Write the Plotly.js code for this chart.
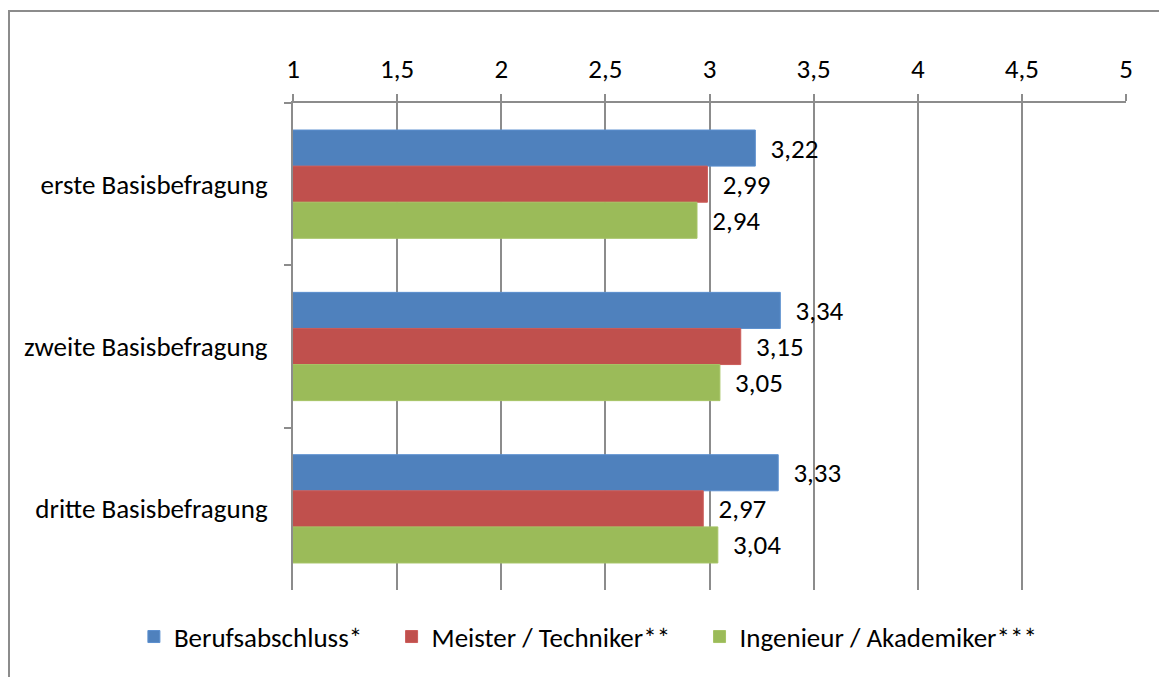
<!DOCTYPE html>
<html><head><meta charset="utf-8">
<script src="https://cdn.plot.ly/plotly-3.0.1.min.js"></script>
<style>
body{margin:0;padding:0;background:#fff;}
#wrap{position:relative;width:1159px;height:677px;overflow:hidden;}
#chart{position:absolute;left:0;top:0;width:1159px;height:677px;}
#frame{position:absolute;left:8px;top:10px;width:1300px;height:800px;border:2px solid #8c8c8c;pointer-events:none;box-sizing:border-box;}
</style></head>
<body>
<div id="wrap"><div id="chart"></div><div id="frame"></div></div>
<script>
const categories = ["erste Basisbefragung", "zweite Basisbefragung", "dritte Basisbefragung"];
const seriesNames = ["Berufsabschluss*", "Meister / Techniker**", "Ingenieur / Akademiker***"];
const berufsabschluss = [3.22, 3.34, 3.33];
const meister = [2.99, 3.15, 2.97];
const ingenieur = [2.94, 3.05, 3.04];
const tickValues = [1, 1.5, 2, 2.5, 3, 3.5, 4, 4.5, 5];
const colors = ["#4F81BD", "#C0504D", "#9BBB59"];
const lineColors = ["#5B8FCF", "#CC5C59", "#A6C466"];

const FONT = "Carlito, Lato, sans-serif";
const FS = 27;
const PAD = "\u00a0\u00a0\u00a0\u00a0";
const seriesData = [berufsabschluss, meister, ingenieur];
const traces = seriesData.map((vals, i) => ({
  type: "bar",
  orientation: "h",
  name: seriesNames[i] + (i < seriesNames.length - 1 ? PAD : ""),
  y: categories,
  x: vals,
  marker: {color: colors[i], line: {color: lineColors[i], width: 1}},
  text: vals.map(v => "\u00a0\u00a0" + v.toFixed(2).replace(".", ",")),
  textposition: "outside",
  cliponaxis: false,
  constraintext: "none",
  textfont: {family: FONT, size: FS, color: "#000"},
  hoverinfo: "x+y"
}));

const layout = {
  width: 1159, height: 677,
  margin: {l: 293, r: 33, t: 103, b: 87},
  paper_bgcolor: "#fff", plot_bgcolor: "#fff",
  separators: ",.",
  barmode: "group",
  bargap: 0.333,
  bargroupgap: 0,
  font: {family: FONT, size: FS, color: "#000"},
  xaxis: {
    side: "top",
    range: [1, 5],
    tickvals: tickValues,
    ticktext: tickValues.map(v => String(v).replace(".", ",")),
    ticks: "outside", ticklen: 7, tickwidth: 2, tickcolor: "#8c8c8c",
    showgrid: true, gridcolor: "#8c8c8c", gridwidth: 2,
    showline: true, linecolor: "#8c8c8c", linewidth: 2,
    zeroline: false,
    tickfont: {family: FONT, size: FS, color: "#000"},
    ticklabelstandoff: 5,
    fixedrange: true
  },
  yaxis: {
    type: "category",
    autorange: "reversed",
    ticks: "outside", tickson: "boundaries", ticklen: 7, tickwidth: 2, tickcolor: "#8c8c8c",
    showline: true, linecolor: "#8c8c8c", linewidth: 2,
    showgrid: false, zeroline: false,
    tickfont: {family: FONT, size: FS, color: "#000"},
    ticklabelstandoff: 18,
    fixedrange: true
  },
  showlegend: true,
  legend: {
    orientation: "h",
    x: -0.191, xanchor: "left",
    y: -0.0965, yanchor: "middle",
    font: {family: FONT, size: FS, color: "#000"},
    itemwidth: 30,
    traceorder: "normal"
  }
};

Plotly.newPlot("chart", traces, layout, {displayModeBar: false, staticPlot: true});
</script>
</body></html>
